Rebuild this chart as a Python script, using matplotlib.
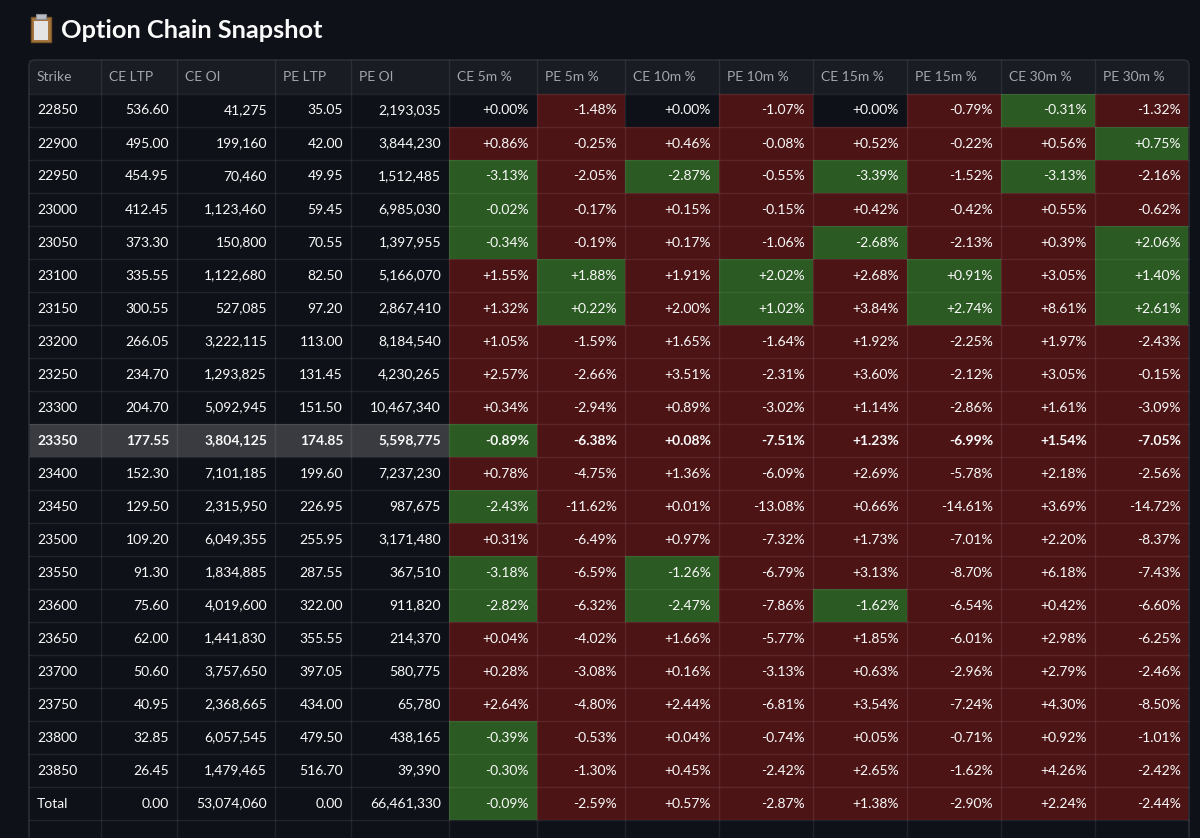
import matplotlib.pyplot as plt
from matplotlib.patches import Rectangle, FancyBboxPatch

plt.rcParams['font.family'] = ['Lato', 'DejaVu Sans']

# table data
strikes = ['22850', '22900', '22950', '23000', '23050', '23100', '23150', '23200',
           '23250', '23300', '23350', '23400', '23450', '23500', '23550', '23600',
           '23650', '23700', '23750', '23800', '23850', 'Total']
ce_ltp = [536.60, 495.00, 454.95, 412.45, 373.30, 335.55, 300.55, 266.05, 234.70, 204.70,
          177.55, 152.30, 129.50, 109.20, 91.30, 75.60, 62.00, 50.60, 40.95, 32.85, 26.45, 0.00]
ce_oi = [41275, 199160, 70460, 1123460, 150800, 1122680, 527085, 3222115, 1293825, 5092945,
         3804125, 7101185, 2315950, 6049355, 1834885, 4019600, 1441830, 3757650, 2368665,
         6057545, 1479465, 53074060]
pe_ltp = [35.05, 42.00, 49.95, 59.45, 70.55, 82.50, 97.20, 113.00, 131.45, 151.50, 174.85,
          199.60, 226.95, 255.95, 287.55, 322.00, 355.55, 397.05, 434.00, 479.50, 516.70, 0.00]
pe_oi = [2193035, 3844230, 1512485, 6985030, 1397955, 5166070, 2867410, 8184540, 4230265,
         10467340, 5598775, 7237230, 987675, 3171480, 367510, 911820, 214370, 580775, 65780,
         438165, 39390, 66461330]

ce_5m = [0.00, 0.86, -3.13, -0.02, -0.34, 1.55, 1.32, 1.05, 2.57, 0.34, -0.89, 0.78, -2.43,
         0.31, -3.18, -2.82, 0.04, 0.28, 2.64, -0.39, -0.30, -0.09]
pe_5m = [-1.48, -0.25, -2.05, -0.17, -0.19, 1.88, 0.22, -1.59, -2.66, -2.94, -6.38, -4.75,
         -11.62, -6.49, -6.59, -6.32, -4.02, -3.08, -4.80, -0.53, -1.30, -2.59]
ce_10m = [0.00, 0.46, -2.87, 0.15, 0.17, 1.91, 2.00, 1.65, 3.51, 0.89, 0.08, 1.36, 0.01, 0.97,
          -1.26, -2.47, 1.66, 0.16, 2.44, 0.04, 0.45, 0.57]
pe_10m = [-1.07, -0.08, -0.55, -0.15, -1.06, 2.02, 1.02, -1.64, -2.31, -3.02, -7.51, -6.09,
          -13.08, -7.32, -6.79, -7.86, -5.77, -3.13, -6.81, -0.74, -2.42, -2.87]
ce_15m = [0.00, 0.52, -3.39, 0.42, -2.68, 2.68, 3.84, 1.92, 3.60, 1.14, 1.23, 2.69, 0.66, 1.73,
          3.13, -1.62, 1.85, 0.63, 3.54, 0.05, 2.65, 1.38]
pe_15m = [-0.79, -0.22, -1.52, -0.42, -2.13, 0.91, 2.74, -2.25, -2.12, -2.86, -6.99, -5.78,
          -14.61, -7.01, -8.70, -6.54, -6.01, -2.96, -7.24, -0.71, -1.62, -2.90]
ce_30m = [-0.31, 0.56, -3.13, 0.55, 0.39, 3.05, 8.61, 1.97, 3.05, 1.61, 1.54, 2.18, 3.69, 2.20,
          6.18, 0.42, 2.98, 2.79, 4.30, 0.92, 4.26, 2.24]
pe_30m = [-1.32, 0.75, -2.16, -0.62, 2.06, 1.40, 2.61, -2.43, -0.15, -3.09, -7.05, -2.56,
          -14.72, -8.37, -7.43, -6.60, -6.25, -2.46, -8.50, -1.01, -2.42, -2.44]

headers = ['Strike', 'CE LTP', 'CE OI', 'PE LTP', 'PE OI', 'CE 5m %', 'PE 5m %', 'CE 10m %',
           'PE 10m %', 'CE 15m %', 'PE 15m %', 'CE 30m %', 'PE 30m %']
atm_strike = '23350'

BG = '#0e1117'
HEAD_BG = '#1a1c24'
ATM_BG = '#393b41'
RED = '#4d1416'
GREEN = '#2b5a22'
GRID = '#2a2d35'

# layout (pixels)
col_edges = [29, 101, 177, 275, 351, 449, 537, 625, 719, 813, 907, 1001, 1095, 1189]
top, head_h, row_h = 60, 34, 33

fig = plt.figure(figsize=(12, 8.38), dpi=100, facecolor=BG)
ax = fig.add_axes([0, 0, 1, 1])
ax.set_xlim(0, 1200)
ax.set_ylim(838, 0)
ax.axis('off')
ax.set_facecolor(BG)

# title with a little clipboard icon
ax.add_patch(Rectangle((31, 17), 20, 25, facecolor='#a7773f', edgecolor='#7a5428', lw=1))
ax.add_patch(Rectangle((34, 21), 14, 19, facecolor='#e4e4e4', edgecolor='none'))
ax.add_patch(Rectangle((36, 14), 10, 5, facecolor='#b9bcc2', edgecolor='#8a8d93', lw=0.8))
ax.text(61, 30, 'Option Chain Snapshot', color='#fafafa', fontsize=18.3,
        fontweight='bold', va='center', ha='left')

# header
ax.add_patch(Rectangle((col_edges[0], top), col_edges[-1] - col_edges[0], head_h,
                       facecolor=HEAD_BG, edgecolor='none'))
for j, h in enumerate(headers):
    ax.text(col_edges[j] + 8, top + head_h / 2, h, color='#a3a6ad', fontsize=10,
            va='center', ha='left')


def pct_colour(v, side):
    if v == 0:
        return None
    up = v > 0
    if side == 'CE':
        return RED if up else GREEN
    return GREEN if up else RED


pct_cols = [('CE', ce_5m), ('PE', pe_5m), ('CE', ce_10m), ('PE', pe_10m),
            ('CE', ce_15m), ('PE', pe_15m), ('CE', ce_30m), ('PE', pe_30m)]

for i, s in enumerate(strikes):
    y0 = top + head_h + i * row_h
    yc = y0 + row_h / 2
    atm = s == atm_strike
    weight = 'bold' if atm else 'normal'
    if atm:
        ax.add_patch(Rectangle((col_edges[0], y0), col_edges[5] - col_edges[0], row_h,
                               facecolor=ATM_BG, edgecolor='none'))
    vals = [f'{ce_ltp[i]:.2f}', f'{ce_oi[i]:,}', f'{pe_ltp[i]:.2f}', f'{pe_oi[i]:,}']
    ax.text(col_edges[0] + 8, yc, s, color='#fafafa', fontsize=10, va='center',
            ha='left', fontweight=weight)
    for j, v in enumerate(vals):
        ax.text(col_edges[j + 2] - 8, yc, v, color='#fafafa', fontsize=10,
                va='center', ha='right', fontweight=weight)
    for k, (side, arr) in enumerate(pct_cols):
        j = 5 + k
        c = pct_colour(arr[i], side)
        if c:
            ax.add_patch(Rectangle((col_edges[j], y0), col_edges[j + 1] - col_edges[j], row_h,
                                   facecolor=c, edgecolor='none'))
        ax.text(col_edges[j + 1] - 8, yc, f'{arr[i]:+.2f}%', color='#fafafa', fontsize=10,
                va='center', ha='right', fontweight=weight)

# grid lines (one extra empty row at the bottom is cut off)
n_rows = len(strikes) + 1
bottom = top + head_h + n_rows * row_h
for k in range(n_rows + 1):
    y = top + head_h + k * row_h
    ax.plot([col_edges[0], col_edges[-1]], [y, y], color='white', alpha=0.08, lw=1)
for x in col_edges[1:-1]:
    ax.plot([x, x], [top, bottom], color='white', alpha=0.08, lw=1)
ax.add_patch(FancyBboxPatch((col_edges[0], top), col_edges[-1] - col_edges[0], bottom - top,
                            boxstyle='round,pad=0,rounding_size=6', facecolor='none',
                            edgecolor=GRID, lw=1.2))

fig.savefig('out.png', dpi=100, facecolor=BG)
